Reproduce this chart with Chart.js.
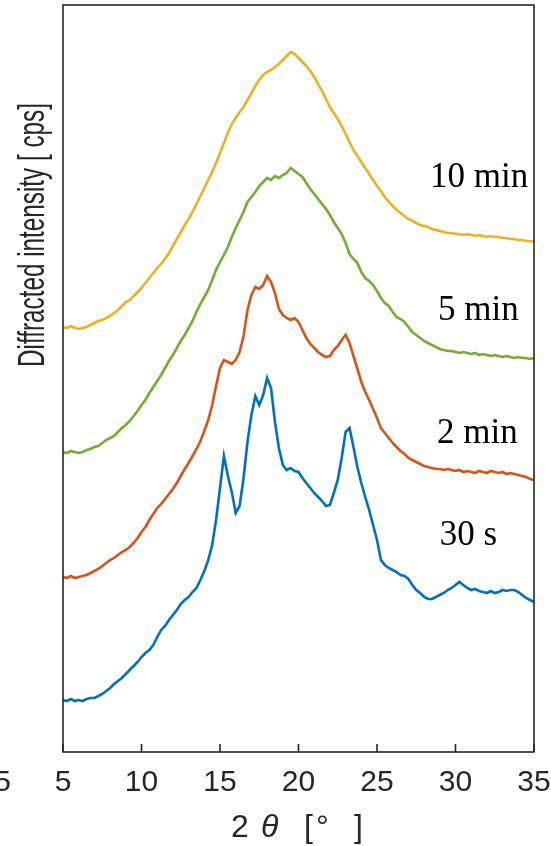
<!DOCTYPE html>
<html>
<head>
<meta charset="utf-8">
<script src="https://cdn.jsdelivr.net/npm/chart.js@4/dist/chart.umd.min.js"></script>
<style>
html,body{margin:0;padding:0;background:#fff;}
canvas{display:block;}
</style>
</head>
<body>
<canvas id="c" width="551" height="846"></canvas>
<script>
// 2θ sampling (degrees), 0.25° steps from 5 to 35
const twoTheta = [];
for (let i = 0; i <= 120; i++) twoTheta.push(5 + i * 0.25);

const seriesNames = ['30 s', '2 min', '5 min', '10 min'];
const seriesColors = ['#0072BD', '#D95319', '#77AC30', '#EDB120'];

// diffracted intensity (arbitrary units, curves stacked as in the figure)
const int30s = [
  52,51,53,51,52,51,53,54,54,56,58,61,64,68,71,74,78,82,86,90,
  95,99,102,107,115,122,126,132,137,142,148,152,155,160,164,172,181,192,207,232,
  264,296,276,260,239,246,274,310,337,356,347,357,374,364,330,304,287,282,284,281,
  280,274,269,264,259,255,251,246,247,259,272,294,320,324,305,285,269,255,242,227,
  212,192,187,184,182,180,177,176,173,167,162,159,155,153,153,155,157,159,162,164,
  167,170,167,164,162,163,161,160,159,161,159,160,162,161,162,162,160,157,154,152,150
];
const int2min = [
  175,174,176,174,175,176,177,179,181,183,186,189,192,194,197,200,202,205,209,214,
  220,225,232,238,244,248,253,258,263,269,276,283,289,296,303,311,321,332,347,366,
  384,392,390,388,392,400,416,442,457,465,463,467,476,470,459,443,437,434,432,434,
  430,422,414,408,404,400,397,395,396,402,406,412,417,409,396,383,370,360,352,343,
  334,324,319,314,309,305,301,298,294,292,290,288,286,285,284,283,283,282,283,282,
  281,282,280,281,280,279,281,280,279,281,280,279,280,278,279,278,277,276,275,273,272
];
const int5min = [
  300,299,301,300,299,300,302,303,305,306,309,312,314,316,320,324,327,331,336,341,
  347,352,359,365,371,377,384,391,397,404,411,417,424,431,440,448,455,462,472,482,
  490,497,505,515,524,532,540,550,555,560,566,570,574,572,576,574,577,579,584,581,
  578,575,569,563,558,553,548,543,537,530,524,518,509,498,493,489,480,474,471,467,
  461,454,449,446,440,435,433,430,425,420,417,414,411,409,407,405,403,402,401,401,
  400,399,400,399,398,399,397,398,397,396,397,396,395,396,395,394,395,394,394,393,394
];
const int10min = [
  425,424,426,424,423,424,425,427,429,431,432,434,436,439,442,446,450,452,456,460,
  464,469,474,479,484,488,493,499,506,513,520,527,533,540,548,556,564,572,580,589,
  599,609,619,628,634,640,645,652,659,666,672,677,680,682,685,688,692,696,700,698,
  694,690,686,681,675,668,661,653,645,639,633,626,618,610,602,596,590,584,578,572,
  566,561,555,550,546,542,539,536,533,531,529,527,526,525,523,522,521,520,519,519,
  518,518,517,518,517,516,517,516,515,516,515,515,514,514,513,513,512,512,511,511,510
];
const seriesValues = [int30s, int2min, int5min, int10min];

const tickValues = [5, 10, 15, 20, 25, 30, 35];
const tickLabels = ['5', '10', '15', '20', '25', '30', '35'];

// where each curve's label sits (2θ, intensity)
const labelTheta = [29.0, 28.82, 28.89, 28.38];
const labelLevel = [207, 309, 432, 565];

const AXIS = '#262626';
const SANS = '"Liberation Sans", Arial, sans-serif';

const deco = {
  id: 'deco',
  afterDatasetsDraw(chart) {
    const {ctx, chartArea: a, scales: {x, y}} = chart;
    ctx.save();
    // frame
    ctx.strokeStyle = AXIS;
    ctx.lineWidth = 1.6;
    ctx.strokeRect(a.left, a.top, a.right - a.left, a.bottom - a.top);
    // inward tick marks + tick labels
    ctx.fillStyle = AXIS;
    ctx.font = '30px ' + SANS;
    ctx.textAlign = 'center';
    ctx.textBaseline = 'middle';
    tickValues.forEach((v, i) => {
      const px = x.getPixelForValue(v);
      ctx.beginPath();
      ctx.moveTo(px, a.bottom);
      ctx.lineTo(px, a.bottom - 8);
      ctx.stroke();
      ctx.fillText(tickLabels[i], px, a.bottom + 31);
    });
    // stray clipped tick label at far left
    ctx.fillText('5', 2.5, a.bottom + 31);
    // curve labels
    ctx.fillStyle = '#000';
    ctx.font = '35px "Liberation Serif", "Times New Roman", serif';
    ctx.textAlign = 'left';
    ctx.textBaseline = 'alphabetic';
    seriesNames.forEach((s, i) => {
      ctx.fillText(s, x.getPixelForValue(labelTheta[i]), y.getPixelForValue(labelLevel[i]));
    });
    // x title: 2θ [° ]
    ctx.fillStyle = AXIS;
    ctx.font = '32px ' + SANS;
    ctx.fillText('2', 231, 837);
    ctx.font = 'italic 32px ' + SANS;
    ctx.fillText('\u03B8', 261, 837);
    ctx.font = '32px ' + SANS;
    ctx.fillText('[', 304, 837);
    ctx.fillText('\u00B0', 316, 837);
    ctx.fillText(']', 354, 837);
    // y title
    const yt = 'Diffracted intensity [ cps]';
    ctx.font = '36px "Liberation Sans Narrow", "Liberation Sans", Arial, sans-serif';
    const w = ctx.measureText(yt).width;
    ctx.translate(44, 367);
    ctx.rotate(-Math.PI / 2);
    ctx.scale(264 / w, 1);
    ctx.fillText(yt, 0, 0);
    ctx.restore();
  }
};

new Chart(document.getElementById('c'), {
  type: 'line',
  data: {
    datasets: seriesValues.map((vals, i) => ({
      label: seriesNames[i],
      data: twoTheta.map((t, j) => ({x: t, y: vals[j]})),
      borderColor: seriesColors[i],
      backgroundColor: seriesColors[i],
      borderWidth: 2.6,
      pointRadius: 0,
      tension: 0,
      fill: false
    }))
  },
  options: {
    responsive: false,
    animation: false,
    devicePixelRatio: 1,
    layout: {padding: {left: 63, right: 17, top: 5, bottom: 94}},
    plugins: {legend: {display: false}, tooltip: {enabled: false}},
    scales: {
      x: {type: 'linear', display: false, min: 5, max: 35},
      y: {display: false, min: 0, max: 747}
    }
  },
  plugins: [deco]
});
</script>
</body>
</html>
